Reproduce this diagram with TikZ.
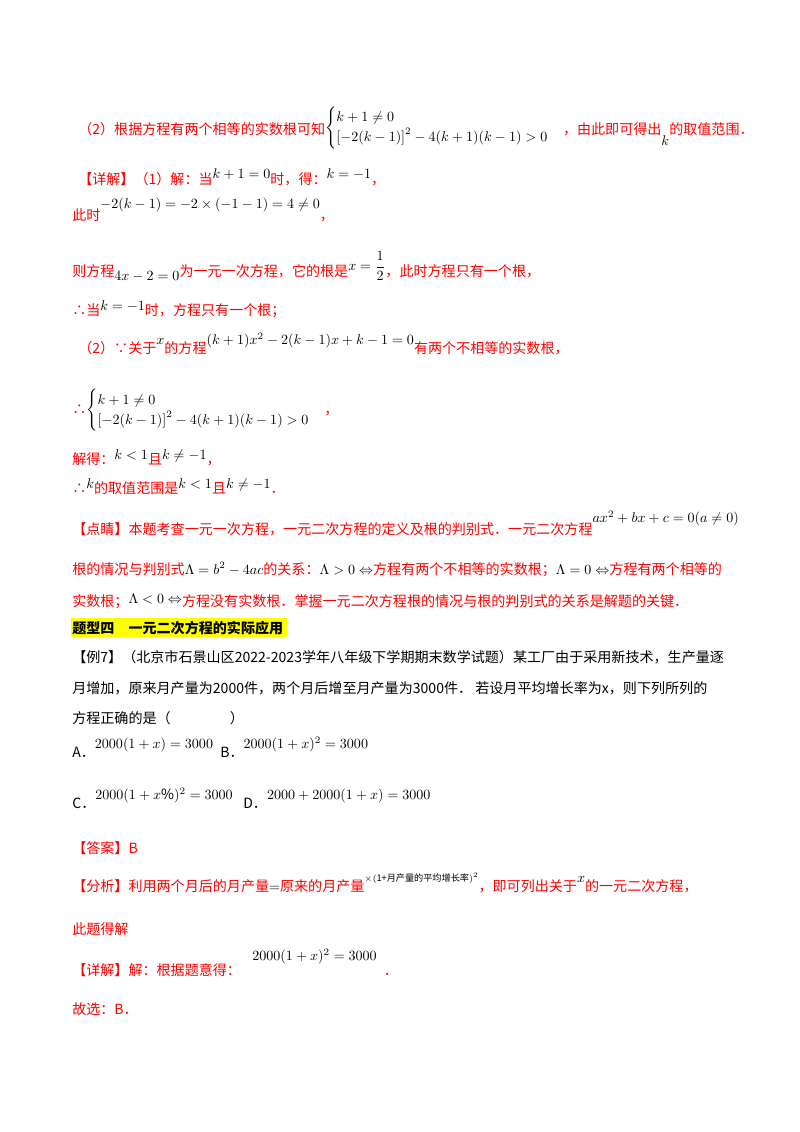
\documentclass[tikz,border=0pt]{standalone}
\usepackage{amsmath,amssymb}
\usepackage{fontspec}
\setmainfont{Noto Sans CJK SC}
\usetikzlibrary{positioning}
\definecolor{ansred}{RGB}{255,0,0}
\definecolor{hiyellow}{RGB}{255,255,0}
\newcommand{\blk}[1]{\textcolor{black}{$#1$}}
\newcommand{\upm}[2][5pt]{\raisebox{#1}{\blk{#2}}}
\tikzset{
    line/.style={anchor=base west, inner sep=0pt, text=ansred, font=\fontsize{10}{12}\selectfont},
    plain/.style={line, text=black}
}
\begin{document}
\begin{tikzpicture}[x=0.025cm, y=-0.025cm]
    \useasboundingbox[fill=white] (0,0) rectangle (800,1132);

    % analysis part (2)
    \node[line] (ana) at (78,134) {（2）根据方程有两个相等的实数根可知\upm[2pt]{\begin{cases}k+1\neq 0\\ \left[-2(k-1)\right]^2-4(k+1)(k-1)>0\end{cases}}，由此即可得出\raisebox{-8pt}{\blk{k}}的取值范围．};

    % detailed solution
    \node[line] (det1) at (78,184) {【详解】（1）解：当\upm[4pt]{k+1=0}时，得：\upm[4pt]{k=-1}，};
    \node[line] (det2) at (72,220) {此时\upm[8pt]{-2(k-1)=-2\times(-1-1)=4\neq 0}，};
    \node[line] (det3) at (72,276) {则方程\upm[-3pt]{4x-2=0}为一元一次方程，它的根是\upm[4pt]{x=\dfrac{1}{2}}，此时方程只有一个根，};
    \node[line] (det4) at (72,315) {∴当\upm[3pt]{k=-1}时，方程只有一个根；};
    \node[line] (det5) at (78,353) {（2）∵关于\upm[6pt]{x}的方程\upm[6pt]{(k+1)x^2-2(k-1)x+k-1=0}有两个不相等的实数根，};
    \node[line] (det6) at (72,414) {∴\blk{\begin{cases}k+1\neq 0\\ \left[-2(k-1)\right]^2-4(k+1)(k-1)>0\end{cases}}，};
    \node[line] (det7) at (72,464) {解得：\upm[3pt]{k<1}且\upm[3pt]{k\neq -1}，};
    \node[line] (det8) at (72,493) {∴\upm[3pt]{k}的取值范围是\upm[3pt]{k<1}且\upm[3pt]{k\neq -1}．};

    % comment
    \node[line] (cmt1) at (72,534) {【点睛】本题考查一元一次方程，一元二次方程的定义及根的判别式．一元二次方程\upm[8pt]{ax^2+bx+c=0(a\neq 0)}};
    \node[line] (cmt2) at (72,574) {根的情况与判别式\blk{\Lambda=b^2-4ac}的关系：\blk{\Lambda>0\Leftrightarrow}方程有两个不相等的实数根；\blk{\Lambda=0\Leftrightarrow}方程有两个相等的};
    \node[line] (cmt3) at (72,606) {实数根；\upm[2pt]{\Lambda<0\Leftrightarrow}方程没有实数根．掌握一元二次方程根的情况与根的判别式的关系是解题的关键．};

    % heading
    \fill[hiyellow] (71,618) rectangle (287,637);
    \node[plain, font=\fontsize{10}{12}\selectfont\bfseries] (head) at (72,633) {题型四\quad 一元二次方程的实际应用};

    % example 7
    \node[plain] (ex1) at (72,662) {【例7】（北京市石景山区2022-2023学年八年级下学期期末数学试题）某工厂由于采用新技术，生产量逐};
    \node[plain] (ex2) at (72,693) {月增加，原来月产量为2000件，两个月后增至月产量为3000件．\ 若设月平均增长率为x，则下列所列的};
    \node[plain] (ex3) at (72,723) {方程正确的是（\hspace{4.2em}）};
    \node[plain] (optA) at (72,757) {A．\upm[6pt]{2000(1+x)=3000}};
    \node[plain] (optB) at (220,757) {B．\upm[6pt]{2000(1+x)^2=3000}};
    \node[plain] (optC) at (72,808) {C．\upm[6pt]{2000(1+x\%)^2=3000}};
    \node[plain] (optD) at (243,808) {D．\upm[6pt]{2000+2000(1+x)=3000}};

    % answer
    \node[line] (ans) at (72,853) {【答案】B};
    \node[line] (fx1) at (72,891) {【分析】利用两个月后的月产量\blk{=}原来的月产量\raisebox{7pt}{\textcolor{black}{\fontsize{6.5}{8}\selectfont$\times($1+月产量的平均增长率$)^2$}}，即可列出关于\upm[6pt]{x}的一元二次方程，};
    \node[line] (fx3) at (72,934) {此题得解};
    \node[line] (sol1) at (72,975) {【详解】解：根据题意得：\hspace{0.8em}\upm[10pt]{2000(1+x)^2=3000}\hspace{0.5em}．};
    \node[line] (sol2) at (72,1014) {故选：B．};
\end{tikzpicture}
\end{document}
